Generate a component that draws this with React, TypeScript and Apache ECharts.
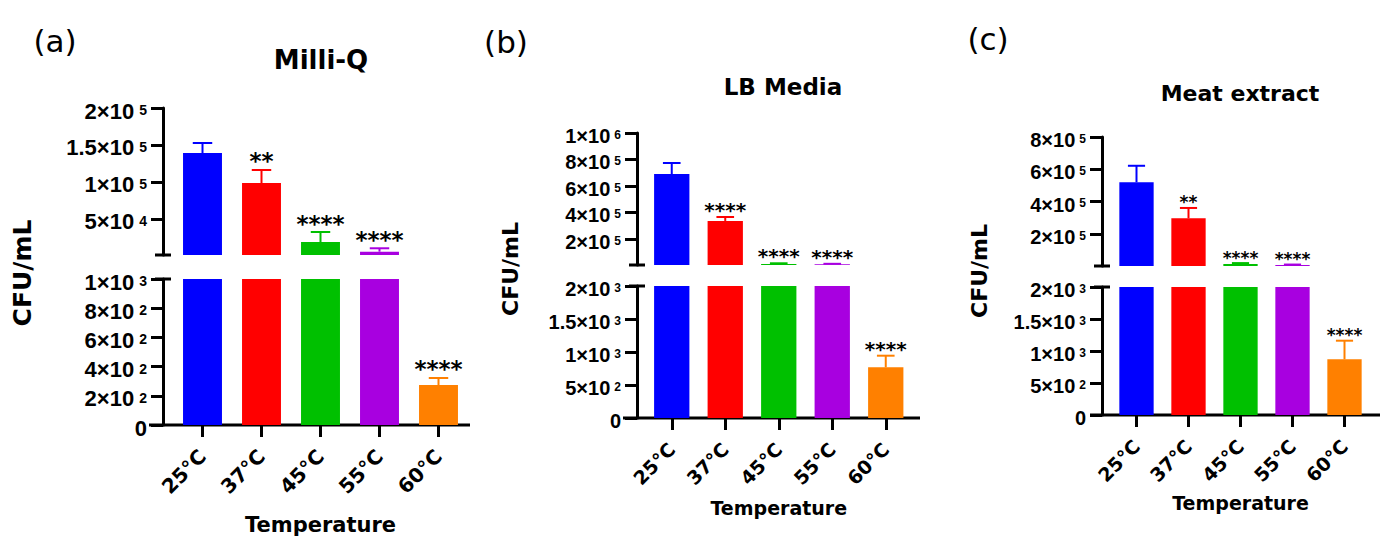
import React, { useEffect, useRef } from "react";
import * as echarts from "echarts";

// Shared categories and colours
const temperatures = ["25°C", "37°C", "45°C", "55°C", "60°C"];
const barColors = ["#0000ff", "#ff0000", "#00c000", "#a800e0", "#ff8000"];

// (a) Milli-Q: mean CFU/mL, SD, significance
const milliQMean = [139100, 98500, 18600, 5500, 274];
const milliQSd = [13500, 17600, 13500, 4600, 48];
const milliQStars = ["", "**", "****", "****", "****"];
const milliQUpperTicks = [50000, 100000, 150000, 200000];
const milliQLowerTicks = [0, 200, 400, 600, 800, 1000];

// (b) LB Media
const lbMean = [690000, 335000, 10000, 8000, 768];
const lbSd = [83000, 30000, 5000, 3000, 176];
const lbStars = ["", "****", "****", "****", "****"];
const lbUpperTicks = [200000, 400000, 600000, 800000, 1000000];
const lbLowerTicks = [0, 500, 1000, 1500, 2000];

// (c) Meat extract
const meatMean = [520000, 297000, 14000, 8000, 870];
const meatSd = [102000, 64000, 6000, 3000, 291];
const meatStars = ["", "**", "****", "****", "****"];
const meatUpperTicks = [200000, 400000, 600000, 800000];
const meatLowerTicks = [0, 500, 1000, 1500, 2000];

const FONT = "DejaVu Sans";
const TICK_FONT = "Liberation Sans";

type Panel = {
  tag: string;
  title: string;
  mean: number[];
  sd: number[];
  stars: string[];
  upperTicks: number[];
  lowerTicks: number[];
  axisX: number;
  left: number;
  width: number;
  upperTop: number;
  upperBottom: number;
  lowerTop: number;
  lowerBottom: number;
  lineStart: number;
  lineEnd: number;
  tagX: number;
  tagY: number;
  titleX: number;
  titleY: number;
  titleSize: number;
  yNameX: number;
  yNameY: number;
  yNameSize: number;
  tickFont: number;
  supFont: number;
  supGap: number;
  catFont: number;
  xNameSize: number;
  xNameGap: number;
  starFont: number;
};

const panels: Panel[] = [
  {
    tag: "(a)", title: "Milli-Q", mean: milliQMean, sd: milliQSd, stars: milliQStars,
    upperTicks: milliQUpperTicks, lowerTicks: milliQLowerTicks,
    axisX: 163, left: 173, width: 295,
    upperTop: 108, upperBottom: 255, lowerTop: 279, lowerBottom: 425,
    lineStart: 149, lineEnd: 470,
    tagX: 55, tagY: 41, titleX: 321, titleY: 60, titleSize: 26,
    yNameX: 22, yNameY: 273, yNameSize: 25,
    tickFont: 22, supFont: 14, supGap: 5, catFont: 20, xNameSize: 21, xNameGap: 89, starFont: 23,
  },
  {
    tag: "(b)", title: "LB Media", mean: lbMean, sd: lbSd, stars: lbStars,
    upperTicks: lbUpperTicks, lowerTicks: lbLowerTicks,
    axisX: 637, left: 645, width: 267.5,
    upperTop: 133, upperBottom: 265, lowerTop: 286, lowerBottom: 418,
    lineStart: 623, lineEnd: 920,
    tagX: 506, tagY: 42, titleX: 783, titleY: 87, titleSize: 23,
    yNameX: 510, yNameY: 269, yNameSize: 22,
    tickFont: 20, supFont: 12, supGap: 4, catFont: 19, xNameSize: 19, xNameGap: 80, starFont: 20,
  },
  {
    tag: "(c)", title: "Meat extract", mean: meatMean, sd: meatSd, stars: meatStars,
    upperTicks: meatUpperTicks, lowerTicks: meatLowerTicks,
    axisX: 1102, left: 1110.5, width: 260,
    upperTop: 137, upperBottom: 266, lowerTop: 287, lowerBottom: 415,
    lineStart: 1090, lineEnd: 1380,
    tagX: 988, tagY: 39, titleX: 1240, titleY: 93, titleSize: 22,
    yNameX: 979, yNameY: 271, yNameSize: 22,
    tickFont: 20, supFont: 12, supGap: 4, catFont: 19, xNameSize: 19, xNameGap: 78, starFont: 17,
  },
];

// mantissa and exponent of a tick value, e.g. 150000 -> ["1.5×10", "5"]
function sciParts(v: number): [string, string] {
  if (v === 0) return ["0", ""];
  const e = Math.floor(Math.log10(v) + 1e-9);
  const m = Math.round((v / Math.pow(10, e)) * 10) / 10;
  return [`${m}×10`, `${e}`];
}

function buildOption() {
  const grid: any[] = [];
  const xAxis: any[] = [];
  const yAxis: any[] = [];
  const series: any[] = [];
  const graphic: any[] = [];

  panels.forEach((p) => {
    const breakAt = p.lowerTicks[p.lowerTicks.length - 1];
    const upperMax = p.upperTicks[p.upperTicks.length - 1];
    const gu = grid.length;
    const gl = gu + 1;

    grid.push({ left: p.left, width: p.width, top: p.upperTop, height: p.upperBottom - p.upperTop });
    grid.push({ left: p.left, width: p.width, top: p.lowerTop, height: p.lowerBottom - p.lowerTop });

    xAxis.push({ type: "category", gridIndex: gu, data: temperatures, show: false });
    xAxis.push({
      type: "category",
      gridIndex: gl,
      data: temperatures,
      axisLine: { show: false },
      axisTick: { show: true, alignWithLabel: true, length: 12, lineStyle: { width: 3, color: "#000" } },
      axisLabel: {
        rotate: 45,
        margin: 28,
        fontSize: p.catFont,
        fontWeight: "bold",
        fontFamily: FONT,
        color: "#000",
      },
      name: "Temperature",
      nameLocation: "middle",
      nameGap: p.xNameGap,
      nameTextStyle: { fontSize: p.xNameSize, fontWeight: "bold", fontFamily: FONT, color: "#000" },
    });

    // y axes: line and ticks from ECharts; tick texts drawn by a custom series below
    const yCommon = (ticks: number[]) => ({
      type: "value",
      offset: p.left - p.axisX,
      axisLine: { show: true, lineStyle: { color: "#000", width: 3 } },
      axisTick: { show: true, length: 12, lineStyle: { width: 3, color: "#000" }, customValues: ticks },
      axisLabel: { show: false },
      splitLine: { show: false },
    });
    yAxis.push({ ...yCommon(p.upperTicks), gridIndex: gu, min: breakAt, max: upperMax });
    yAxis.push({ ...yCommon(p.lowerTicks), gridIndex: gl, min: 0, max: breakAt });

    // tick texts with superscript exponents
    const tickRender = (params: any, api: any) => {
      const v = api.value(1);
      const pt = api.coord([0, v]);
      const [mant, exp] = sciParts(v);
      const right = p.axisX - 16;
      const supW = exp ? p.supFont * 0.56 * exp.length + p.supGap : 0;
      const children: any[] = [
        {
          type: "text",
          x: right - supW,
          y: pt[1] + 3,
          style: {
            text: mant,
            fontSize: p.tickFont,
            fontWeight: "bold",
            fontFamily: TICK_FONT,
            fill: "#000",
            align: "right",
            verticalAlign: "middle",
          },
        },
      ];
      if (exp) {
        children.push({
          type: "text",
          x: right,
          y: pt[1] - p.tickFont * 0.36 + 3,
          style: {
            text: exp,
            fontSize: p.supFont,
            fontWeight: "bold",
            fontFamily: TICK_FONT,
            fill: "#000",
            align: "right",
            verticalAlign: "top",
          },
        });
      }
      return { type: "group", children };
    };
    [
      [gu, p.upperTicks],
      [gl, p.lowerTicks],
    ].forEach(([gi, ticks]: any) =>
      series.push({
        type: "custom",
        xAxisIndex: gi,
        yAxisIndex: gi,
        renderItem: tickRender,
        data: ticks.map((t: number) => [0, t]),
        silent: true,
        z: 6,
      })
    );

    // bars
    series.push({
      type: "bar",
      xAxisIndex: gu,
      yAxisIndex: gu,
      barWidth: "66%",
      data: p.mean.map((v, i) => (v > breakAt ? { value: v, itemStyle: { color: barColors[i] } } : "-")),
    });
    series.push({
      type: "bar",
      xAxisIndex: gl,
      yAxisIndex: gl,
      barWidth: "66%",
      clip: true,
      data: p.mean.map((v, i) => ({ value: v, itemStyle: { color: barColors[i] } })),
    });

    // error bars (upper whisker) + significance stars
    const errRender = (params: any, api: any) => {
      const i = api.value(0);
      const m = api.value(1);
      const s = api.value(2);
      const base = api.coord([i, m]);
      const top = api.coord([i, m + s]);
      const band = api.size([1, 0])[0];
      const half = band * 0.66 * 0.25;
      const color = barColors[i];
      return {
        type: "group",
        children: [
          { type: "line", shape: { x1: base[0], y1: base[1], x2: top[0], y2: top[1] }, style: { stroke: color, lineWidth: 2 } },
          { type: "line", shape: { x1: top[0] - half, y1: top[1], x2: top[0] + half, y2: top[1] }, style: { stroke: color, lineWidth: 2 } },
          {
            type: "text",
            x: top[0],
            y: top[1] + 3,
            style: {
              text: p.stars[i],
              fontSize: p.starFont,
              fontWeight: "bold",
              fontFamily: FONT,
              fill: "#000",
              align: "center",
              verticalAlign: "bottom",
            },
          },
        ],
      };
    };
    series.push({
      type: "custom",
      xAxisIndex: gu,
      yAxisIndex: gu,
      renderItem: errRender,
      data: p.mean.map((v, i) => [i, v, p.sd[i]]).filter((d) => d[1] > breakAt),
      z: 5,
    });
    series.push({
      type: "custom",
      xAxisIndex: gl,
      yAxisIndex: gl,
      renderItem: errRender,
      data: p.mean.map((v, i) => [i, v, p.sd[i]]).filter((d) => d[1] <= breakAt),
      z: 5,
    });

    // x axis line extending left past the y axis
    graphic.push({
      type: "line",
      shape: { x1: p.lineStart, y1: p.lowerBottom, x2: p.lineEnd, y2: p.lowerBottom },
      style: { stroke: "#000", lineWidth: 3 },
    });
    // axis break marks
    [p.upperBottom, p.lowerTop].forEach((y) =>
      graphic.push({
        type: "line",
        shape: { x1: p.axisX - 8, y1: y, x2: p.axisX + 8, y2: y },
        style: { stroke: "#000", lineWidth: 3 },
      })
    );
    // panel tag, title, y-axis name
    graphic.push({
      type: "text",
      x: p.tagX,
      y: p.tagY,
      style: { text: p.tag, fontSize: 31, fontFamily: FONT, fill: "#000", align: "center", verticalAlign: "middle" },
    });
    graphic.push({
      type: "text",
      x: p.titleX,
      y: p.titleY,
      style: {
        text: p.title,
        fontSize: p.titleSize,
        fontWeight: "bold",
        fontFamily: FONT,
        fill: "#000",
        align: "center",
        verticalAlign: "middle",
      },
    });
    graphic.push({
      type: "text",
      x: p.yNameX,
      y: p.yNameY,
      rotation: Math.PI / 2,
      style: {
        text: "CFU/mL",
        fontSize: p.yNameSize,
        fontWeight: "bold",
        fontFamily: FONT,
        fill: "#000",
        align: "center",
        verticalAlign: "middle",
      },
    });
  });

  return {
    animation: false,
    backgroundColor: "#ffffff",
    grid,
    xAxis,
    yAxis,
    series,
    graphic,
  };
}

export default function App() {
  const ref = useRef<HTMLDivElement>(null);
  useEffect(() => {
    if (!ref.current) return;
    const chart = echarts.init(ref.current, null, { renderer: "svg" });
    chart.setOption(buildOption());
    return () => chart.dispose();
  }, []);
  return (
    <div
      ref={ref}
      style={{ position: "absolute", left: 0, top: 0, width: 1386, height: 541, background: "#fff" }}
    />
  );
}
